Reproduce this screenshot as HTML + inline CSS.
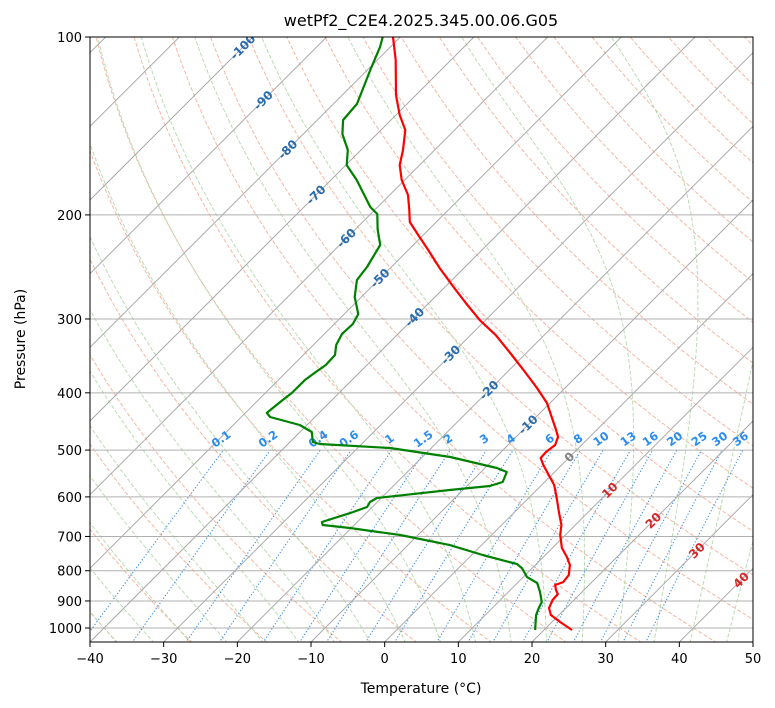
<!DOCTYPE html>
<html><head><meta charset="utf-8"><style>
html,body{margin:0;padding:0;background:#fff;}
svg{display:block;font-family:"DejaVu Sans","Liberation Sans",sans-serif;}
</style></head><body>
<svg id="chart" width="775" height="708" viewBox="0 0 775 708" xmlns="http://www.w3.org/2000/svg">
<defs><clipPath id="plotclip"><rect x="90" y="37" width="663" height="605"/></clipPath></defs>
<rect x="0" y="0" width="775" height="708" fill="#fff"/>
<text x="421" y="26" font-size="16" text-anchor="middle" fill="#000">wetPf2_C2E4.2025.345.00.06.G05</text>
<g id="bg" clip-path="url(#plotclip)"></g>
<g id="labels" clip-path="url(#plotclip)"></g>
<g id="profiles" clip-path="url(#plotclip)"></g>
<rect x="90" y="37" width="663" height="605" fill="none" stroke="#000" stroke-width="1"/>
<g id="axes"></g>
<text x="421" y="693" font-size="14" text-anchor="middle">Temperature (°C)</text>
<text x="25" y="339" font-size="14" text-anchor="middle" transform="rotate(-90 25 339)">Pressure (hPa)</text>
</svg>
<script>
// ---- data ----
const tempPressure = [100,109.4,125.4,135.5,143.7,155.3,164.7,174.6,185.1,196.2,205.6,216.3,229.3,246,262.9,281.9,301.3,319.4,345.2,368.8,392.6,416.3,441.2,462.4,475.1,490.2,503.7,515.6,529.9,551,572.9,602.6,636.4,669.4,696,732.2,758.3,782.4,813.5,836.1,845.8,862.5,876.2,896.8,925.3,950.7,976.8,1007.9];
const tempValues = [-81,-77.5,-72.7,-69.5,-66.7,-64.3,-62.7,-60.4,-57.5,-55.3,-53.6,-50.7,-47.3,-43.3,-39.3,-35,-30.8,-26.6,-21.7,-17.6,-13.8,-10.4,-7.7,-5.5,-4.3,-3.6,-3.9,-3.8,-2.5,-0.4,1.7,3.8,6,8.1,9.3,11.3,13.2,14.7,15.9,16.1,15.4,16.2,17,17.1,17.7,18.9,21.1,23.8];
const dewPressure = [100,104,113.7,129.8,138.2,145.9,155.3,164.7,174.6,193.9,199.3,211.4,224.9,245,257.8,275.4,294.3,305.9,318.2,332,345.2,358.9,368.8,380.5,400.3,411.3,432.6,439.5,453.4,466,484.5,488.3,496,513.6,536.2,544.6,566.2,575.1,584.2,602.6,612.1,624.2,639,661.8,669.4,677.3,696,723.9,752.6,779.5,791.8,820,839.3,869.2,903.6,925.3,950.7,1007.9];
const dewValues = [-82.4,-81.4,-79.6,-76.8,-76.5,-74.7,-71.8,-69.9,-66.5,-61,-59.1,-57,-54.5,-53.3,-52.9,-50.9,-48.1,-47.5,-47.6,-46.9,-45.7,-45.6,-46,-46.4,-46.4,-46.7,-47.1,-46.1,-41,-38.4,-36.9,-35.7,-25.6,-16.2,-8.4,-6.5,-5.7,-6.9,-11.8,-20.6,-21,-20.7,-22.2,-24.8,-24.3,-20.2,-12.4,-4.3,1.5,7.4,8.6,10.5,12.7,14.3,15.9,16.3,16.9,18.8];
const xTicks = [-40,-30,-20,-10,0,10,20,30,40,50];
const yTicks = [100,200,300,400,500,600,700,800,900,1000];
const isothermLabelT = [-100,-90,-80,-70,-60,-50,-40,-30,-20,-10,0,10,20,30,40];
const isothermLabelP = [104,128,155,185,219,256,298,345,396,453,514,585,658,740,830];
const mixRatios = [0.1,0.2,0.4,0.6,1,1.5,2,3,4,6,8,10,13,16,20,25,30,36];

// ---- scales ----
const X0=90,X1=753,Y0=37,Y1=642,K=591,PXC=(X1-X0)/90;
function yP(p){return Y0+K*Math.log10(p/100);}
function xT(t,p){return X0+(t+40)*PXC+(Y1-yP(p));}
const NS='http://www.w3.org/2000/svg';
function mk(tag,parent,attrs){const e=document.createElementNS(NS,tag);for(const k in attrs)e.setAttribute(k,attrs[k]);parent.appendChild(e);return e;}
function pathFrom(ps,ts){let d='';for(let i=0;i<ps.length;i++){d+=(i?'L':'M')+xT(ts[i],ps[i]).toFixed(1)+','+yP(ps[i]).toFixed(1);}return d;}
const bg=document.getElementById('bg'),lab=document.getElementById('labels'),prof=document.getElementById('profiles'),ax=document.getElementById('axes');

// dry adiabats
for(let th=-40;th<=210;th+=10){const ps=[],ts=[];for(let p=1060;p>=95;p-=10){ps.push(p);ts.push((th+273.15)*Math.pow(p/1000,0.2857)-273.15);}
 const e=mk('path',bg,{d:pathFrom(ps,ts),fill:'none',stroke:'#f7b6a1','stroke-width':1,'stroke-dasharray':'4,2'});
 }
// moist adiabats
function es(tc){return 6.112*Math.exp(17.67*tc/(tc+243.5));}
function dTdp(T,p){const tc=T-273.15,e=es(tc),rs=0.622*e/(p-e),Lv=2.501e6,Rd=287.04,cp=1005.7;
 return (Rd*T+Lv*rs)/(p*(cp+Lv*Lv*rs*0.622/(Rd*T*T)));}
for(let t0=-40;t0<=45;t0+=5){let T=t0+273.15;const up=[],upT=[];
 for(let p=1000;p>=100;p-=2){up.push(p);upT.push(T-273.15);T-=dTdp(T,p)*2;}
 let T2=t0+273.15;const dn=[],dnT=[];for(let p=1000;p<=1060;p+=2){T2+=dTdp(T2,p)*2;dn.unshift(p+2);dnT.unshift(T2-273.15);}
 const e=mk('path',bg,{d:pathFrom(dn.concat(up),dnT.concat(upT)),fill:'none',stroke:'#b9dcb2','stroke-width':1,'stroke-dasharray':'4,2'});
 }
// mixing ratio lines
function tdFor(w,p){const e=p*w/(622+w),l=Math.log(e/6.112);return 243.5*l/(17.67-l);}
mixRatios.forEach(w=>{const ps=[],ts=[];for(let p=1060;p>=500;p-=10){ps.push(p);ts.push(tdFor(w,p));}
 const e=mk('path',bg,{d:pathFrom(ps,ts),fill:'none',stroke:'#3a8ee8','stroke-width':1.1,'stroke-dasharray':'1.2,2'});
 
 const x=xT(tdFor(w,500),500),y=yP(500)-8;
 const t=mk('text',lab,{x:x.toFixed(1),y:y.toFixed(1),'font-size':11.5,'font-weight':'bold',fill:'#2b8cf0','text-anchor':'middle',transform:'rotate(-35 '+x.toFixed(1)+' '+y.toFixed(1)+')'});
 t.textContent=String(w);});
// isotherms
for(let t=-130;t<=50;t+=10){const e=mk('line',bg,{x1:xT(t,1100),y1:yP(1100),x2:xT(t,90),y2:yP(90),stroke:'#aaa','stroke-width':1});
 }
// horizontal grid
yTicks.forEach(p=>{const e=mk('line',bg,{x1:X0,x2:X1,y1:yP(p),y2:yP(p),stroke:'#b0b0b0','stroke-width':1});
 });
// isotherm labels
isothermLabelT.forEach((t,i)=>{const p=isothermLabelP[i],x=xT(t,p),y=yP(p);
 const col=t<0?'#2a6cad':(t===0?'#808080':'#d62728');
 const e=mk('text',lab,{x:x.toFixed(1),y:(y+4).toFixed(1),'font-size':12,'font-weight':'bold',fill:col,'text-anchor':'middle',transform:'rotate(-45 '+x.toFixed(1)+' '+y.toFixed(1)+')'});
 e.textContent=String(t);});
// profiles
const tl=mk('path',prof,{d:pathFrom(tempPressure,tempValues),fill:'none',stroke:'#ff0000','stroke-width':2.2,'stroke-linejoin':'round'});

const dl=mk('path',prof,{d:pathFrom(dewPressure,dewValues),fill:'none',stroke:'#008000','stroke-width':2.2,'stroke-linejoin':'round'});

// axes ticks
xTicks.forEach(t=>{const x=X0+(t+40)*PXC;
 const l=mk('line',ax,{x1:x,x2:x,y1:Y1,y2:Y1+5,stroke:'#000'});
 const e=mk('text',ax,{x:x,y:Y1+21,'font-size':13,'text-anchor':'middle'});e.textContent=(t<0?'\u2212'+(-t):String(t));
 });
yTicks.forEach(p=>{const y=yP(p);
 const l=mk('line',ax,{x1:X0-5,x2:X0,y1:y,y2:y,stroke:'#000'});
 const e=mk('text',ax,{x:X0-8,y:y+5,'font-size':13,'text-anchor':'end'});e.textContent=String(p);
 });
</script>
</body></html>
